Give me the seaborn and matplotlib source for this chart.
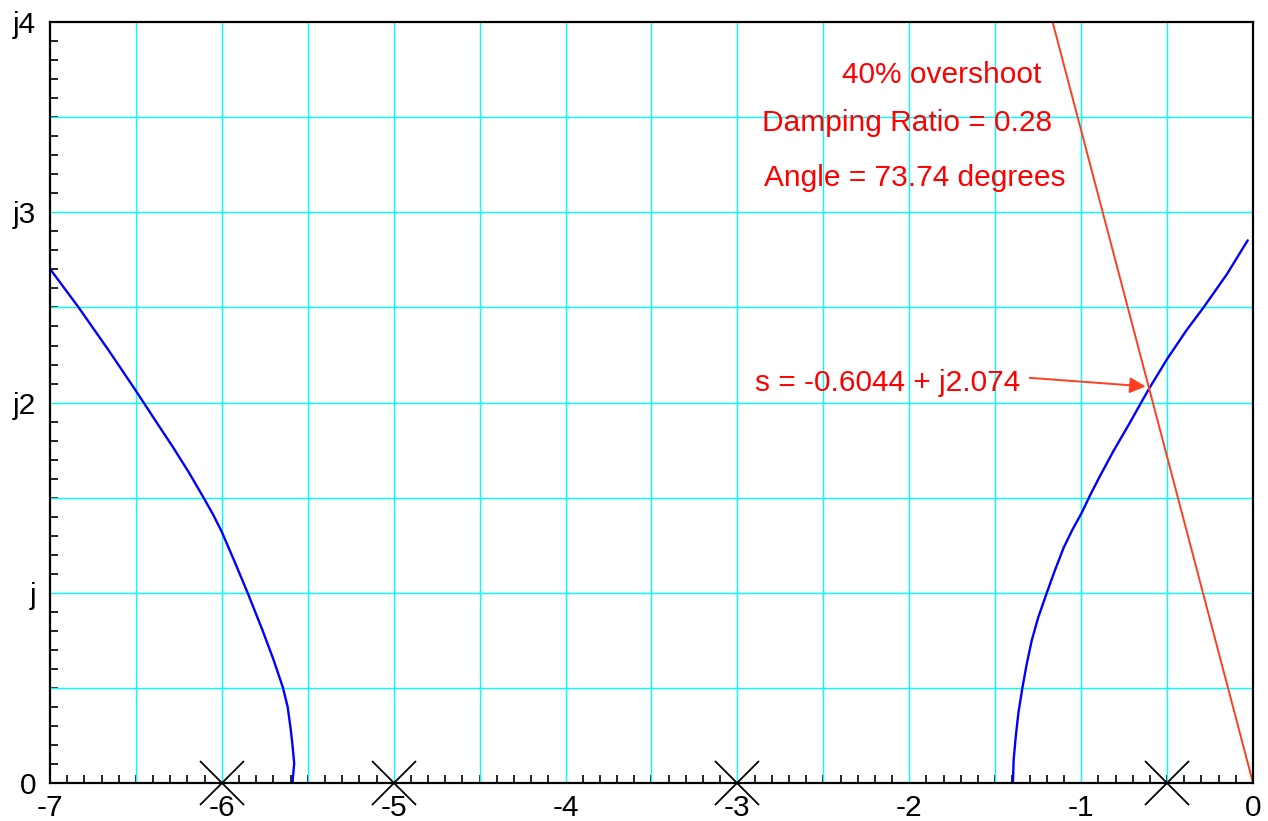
import matplotlib
matplotlib.use('Agg')
import matplotlib.pyplot as plt
import numpy as np
import pandas as pd
import seaborn as sns
from matplotlib.ticker import MultipleLocator, FixedLocator

sns.set_style('white')
plt.rcParams['font.family'] = ['Liberation Sans', 'DejaVu Sans']
plt.rcParams['axes.unicode_minus'] = False

# root locus branches
left_x = [-5.589, -5.579, -5.589, -5.599, -5.617, -5.645, -5.700, -5.762,
          -5.806, -5.850, -5.924, -6.0, -6.05, -6.11, -6.19, -6.283,
          -6.368, -6.455, -6.503, -6.655, -6.833, -6.994]
left_y = [0.0, 0.103, 0.2, 0.281, 0.4, 0.503, 0.65, 0.80,
          0.90, 1.0, 1.16, 1.32, 1.41, 1.506, 1.63, 1.764,
          1.88, 2.0, 2.066, 2.270, 2.5, 2.696]
right_x = [-1.397, -1.393, -1.381, -1.365, -1.342, -1.318, -1.288, -1.25,
           -1.200, -1.152, -1.102, -1.052, -1.0, -0.944, -0.891, -0.813,
           -0.716, -0.651, -0.6044, -0.5, -0.385, -0.288, -0.152, -0.031]
right_y = [0.0, 0.12, 0.241, 0.37, 0.5, 0.62, 0.748, 0.87,
           1.0, 1.12, 1.237, 1.33, 1.415, 1.52, 1.613, 1.744,
           1.895, 2.0, 2.074, 2.229, 2.383, 2.5, 2.675, 2.853]

# open-loop poles
pole_x = [-6, -5, -3, -0.5]
pole_y = [0, 0, 0, 0]

# constant damping ratio line (73.74 degrees)
zeta_x = [0.0, -1.166]
zeta_y = [0.0, 4.0]

x_ticks = [-7, -6, -5, -4, -3, -2, -1, 0]
y_ticks = [0, 1, 2, 3, 4]
y_tick_labels = ['0', 'j', 'j2', 'j3', 'j4']

red = '#ff0000'
line_red = '#ff3d1f'
fs = 21.5

fig, ax = plt.subplots(figsize=(12.68, 8.21), dpi=100)
fig.subplots_adjust(left=0.0394, right=0.9882, bottom=0.0463, top=0.973)

ax.set_xlim(-7, 0)
ax.set_ylim(0, 4)

ax.xaxis.set_major_locator(FixedLocator(x_ticks))
ax.yaxis.set_major_locator(FixedLocator(y_ticks))
ax.set_yticklabels(y_tick_labels)
ax.xaxis.set_minor_locator(MultipleLocator(0.1))
ax.yaxis.set_minor_locator(MultipleLocator(0.1))

for v in np.arange(-6.5, 0, 0.5):
    ax.axvline(v, color='#00ffff', lw=1.0, zorder=1)
for v in np.arange(0.5, 4, 0.5):
    ax.axhline(v, color='#00ffff', lw=1.0, zorder=1)

ax.tick_params(bottom=True, left=True, top=False, right=False, which='both')
ax.tick_params(axis='both', which='major', direction='in', length=0,
               labelsize=fs, colors='black')
ax.tick_params(axis='x', which='major', pad=8)
ax.tick_params(axis='y', which='major', pad=10)
ax.tick_params(axis='both', which='minor', direction='in', length=6,
               width=1.2, color='black')

for sp in ax.spines.values():
    sp.set_color('black')
    sp.set_linewidth(1.6)
    sp.set_zorder(5)

left_df = pd.DataFrame({'x': left_x, 'y': left_y})
right_df = pd.DataFrame({'x': right_x, 'y': right_y})
# estimator=None keeps points with repeated x (no averaging)
sns.lineplot(data=left_df, x='x', y='y', sort=False, estimator=None,
             color='#0000ff', lw=1.7, ax=ax, zorder=3)
sns.lineplot(data=right_df, x='x', y='y', sort=False, estimator=None,
             color='#0000ff', lw=1.7, ax=ax, zorder=3)

ax.plot(zeta_x, zeta_y, color=line_red, lw=1.4, zorder=3, clip_on=False)

ax.plot(pole_x, pole_y, linestyle='none', marker='x', markersize=31,
        markeredgewidth=1.3, color='black', zorder=6, clip_on=False)

ax.text(-1.811, 3.72, '40% overshoot', color=red, fontsize=fs,
        ha='center', va='center')
ax.text(-2.012, 3.47, 'Damping Ratio = 0.28', color=red, fontsize=fs,
        ha='center', va='center')
ax.text(-1.968, 3.18, 'Angle = 73.74 degrees', color=red, fontsize=fs,
        ha='center', va='center')

ax.annotate('', xy=(-0.625, 2.085), xytext=(-1.30, 2.13),
            arrowprops=dict(arrowstyle='-|>', color=line_red, lw=1.4,
                            mutation_scale=24, shrinkA=0, shrinkB=0))
ax.text(-2.899, 2.105, 's = -0.6044 + j2.074', color=red, fontsize=fs,
        ha='left', va='center')

ax.set_xlabel('')
ax.set_ylabel('')

plt.savefig('out.png', dpi=100)
